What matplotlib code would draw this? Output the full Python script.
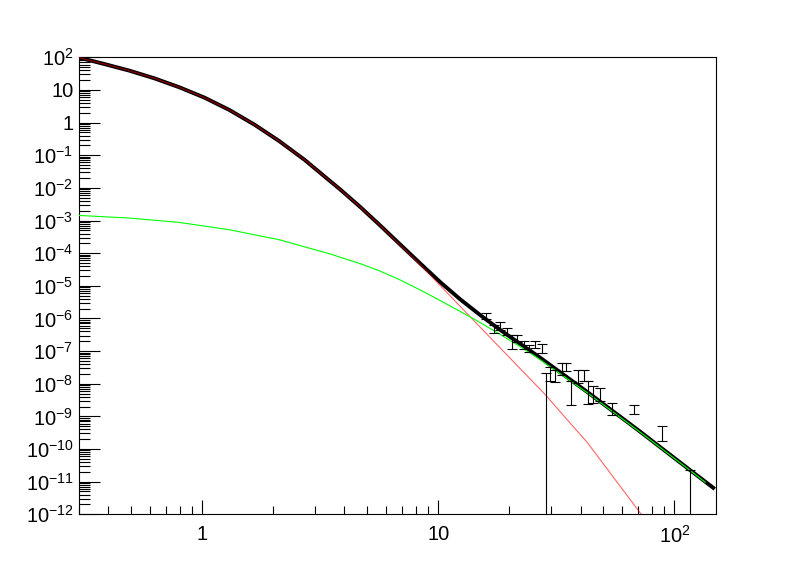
import numpy as np
import matplotlib
matplotlib.use("Agg")
import matplotlib.pyplot as plt
from matplotlib.ticker import LogLocator, FuncFormatter, NullFormatter

plt.rcParams['font.family'] = ['Liberation Sans', 'DejaVu Sans']
plt.rcParams['mathtext.fontset'] = 'custom'
plt.rcParams['mathtext.rm'] = 'Liberation Sans'
plt.rcParams['mathtext.it'] = 'Liberation Sans:italic'
plt.rcParams['mathtext.default'] = 'regular'

# total fit (black)
tot_x = [0.301, 0.384, 0.491, 0.626, 0.799, 1.02, 1.30, 1.66, 2.12, 2.71, 3.45,
         3.84, 4.67, 5.68, 6.90, 8.39, 10.2, 12.4, 15.07, 18.31, 22.26, 26.2,
         42.7, 69.5, 117, 146]
tot_y = [97.4, 62.4, 39.0, 22.7, 12.07, 5.83, 2.445, 0.870, 0.269, 0.0723, 0.01688,
         8.9e-3, 2.58e-3, 6.93e-4, 1.82e-4, 4.77e-5, 1.28e-5, 3.8e-6, 1.25e-6, 4.4e-7,
         1.65e-7, 7.3e-8, 5.6e-9, 4.0e-10, 2.2e-11, 6.5e-12]

# core component (red)
core_x = [0.301, 0.384, 0.491, 0.626, 0.799, 1.02, 1.30, 1.66, 2.12, 2.71, 3.45,
          3.84, 4.67, 5.68, 6.90, 8.39, 10.2, 12.4, 15.07, 19.55, 28.4, 36.3, 42.7, 72.3]
core_y = [97.4, 62.4, 39.0, 22.7, 12.07, 5.83, 2.445, 0.870, 0.269, 0.0723, 0.01688,
          8.9e-3, 2.58e-3, 6.93e-4, 1.75e-4, 4.4e-5, 1.0e-5, 2.3e-6, 5.3e-7, 7.5e-8,
          4.6e-9, 6.0e-10, 1.6e-10, 1.0e-12]

# tail component (green)
tail_x = [0.301, 0.49, 0.80, 1.30, 2.12, 3.45, 4.67, 5.68, 6.90, 8.39, 10.2, 12.4,
          15.07, 18.31, 22.26, 26.2, 42.7, 69.5, 117, 135]
tail_y = [1.43e-3, 1.19e-3, 8.73e-4, 5.22e-4, 2.57e-4, 9.6e-5, 4.75e-5, 2.8e-5,
          1.5e-5, 7.4e-6, 3.5e-6, 1.62e-6, 7.4e-7, 3.2e-7, 1.35e-7, 6.3e-8, 5.3e-9,
          3.85e-10, 2.15e-11, 9.6e-12]

# data points in the tail
pts_x = [15.97, 17.15, 18.31, 19.55, 20.53, 21.55, 22.98, 24.13, 25.76, 27.51, 28.68,
         29.83, 31.31, 33.43, 34.86, 36.6, 38.95, 41.27, 43.09, 45.24, 48.26, 54.45,
         67.7, 88.7, 116.9]
pts_y = [1.18e-6, 4.82e-7, 5.94e-7, 4.0e-7, 2.13e-7, 2.53e-7, 1.57e-7, 1.26e-7, 1.63e-7,
         1.24e-7, 1.06e-8, 2.22e-8, 1.9e-8, 3.05e-8, 3.35e-8, 7.2e-9, 1.86e-8, 1.93e-8,
         7.1e-9, 5.46e-9, 5.15e-9, 1.86e-9, 1.7e-9, 3.4e-10, 1.1e-11]
pts_err = [2.4e-7, 1.32e-7, 1.63e-7, 0.97e-7, 0.97e-7, 0.58e-7, 0.43e-7, 0.29e-7, 0.41e-7,
           0.38e-7, 1.06e-8, 1.0e-8, 0.77e-8, 1.2e-8, 0.9e-8, 4.9e-9, 0.81e-8, 0.74e-8,
           4.7e-9, 2.88e-9, 2.25e-9, 0.72e-9, 0.5e-9, 1.64e-10, 1.1e-11]


def log_label(v, pos):
    e = int(round(np.log10(v)))
    if e == 0:
        return "1"
    if e == 1:
        return "10"
    return r"$10^{%d}$" % e


fig = plt.figure(figsize=(7.96, 5.72), dpi=100)
ax = fig.add_axes([0.0992, 0.1009, 0.8003, 0.7989])

ax.plot(tot_x, tot_y, color="black", lw=2.8, zorder=2)
ax.plot(core_x, core_y, color="red", lw=0.8, alpha=0.6, zorder=3)
ax.plot(tail_x, tail_y, color="#00ff00", lw=0.8, zorder=4)
ax.errorbar(pts_x, pts_y, yerr=pts_err, fmt="none", ecolor="black", elinewidth=0.8,
            capsize=3.5, capthick=0.8, zorder=5)

ax.set_xscale("log")
ax.set_yscale("log")
ax.set_xlim(0.3, 150)
ax.set_ylim(1e-12, 1e2)

ax.yaxis.set_major_locator(LogLocator(base=10, numticks=20))
ax.yaxis.set_minor_locator(LogLocator(base=10, subs=np.arange(2, 10), numticks=20))
ax.xaxis.set_major_locator(LogLocator(base=10, numticks=10))
ax.xaxis.set_minor_locator(LogLocator(base=10, subs=np.arange(2, 10), numticks=10))
ax.xaxis.set_major_formatter(FuncFormatter(log_label))
ax.yaxis.set_major_formatter(FuncFormatter(log_label))
ax.xaxis.set_minor_formatter(NullFormatter())
ax.yaxis.set_minor_formatter(NullFormatter())

ax.tick_params(axis="both", which="both", direction="in", top=False, right=False,
               width=0.8, labelsize=14.5)
ax.tick_params(axis="y", which="major", length=15, pad=4)
ax.tick_params(axis="y", which="minor", length=8)
ax.tick_params(axis="x", which="major", length=10, pad=8)
ax.tick_params(axis="x", which="minor", length=6)
for s in ax.spines.values():
    s.set_linewidth(0.8)

fig.savefig("out.png", dpi=100)
